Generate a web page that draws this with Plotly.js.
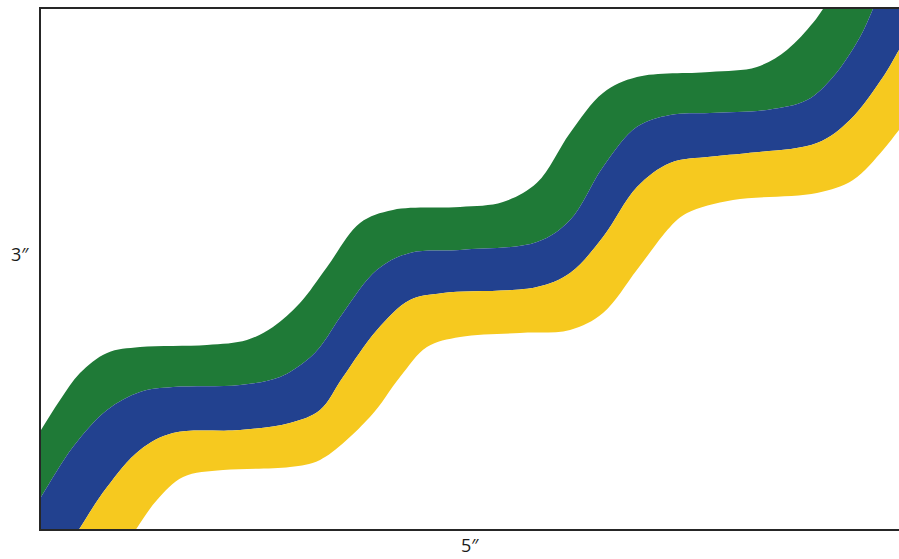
<!DOCTYPE html>
<html>
<head>
<meta charset="utf-8">
<script src="https://cdn.plot.ly/plotly-3.0.1.min.js"></script>
<style>html,body{margin:0;padding:0;background:#fff;}#chart{width:899px;height:559px;}</style>
</head>
<body>
<div id="chart"></div>
<script>
// Boundary curves of the three wavy bands, in inches (frame is 5" x 3")
const topGreenX = [-0.122, 0, 0.111, 0.227, 0.385, 0.577, 0.967, 1.200, 1.352, 1.509, 1.667, 1.859, 2.051, 2.442, 2.692, 2.890, 3.083, 3.275, 3.473, 3.897, 4.172, 4.347, 4.499, 4.557, 4.627];
const topGreenY = [0.381, 0.571, 0.744, 0.900, 1.016, 1.050, 1.062, 1.091, 1.166, 1.304, 1.512, 1.766, 1.841, 1.858, 1.887, 1.997, 2.285, 2.516, 2.608, 2.637, 2.666, 2.764, 2.920, 3.000, 3.110];

const greenBlueX = [-0.152, 0, 0.186, 0.385, 0.577, 0.769, 1.160, 1.393, 1.550, 1.626, 1.760, 1.958, 2.150, 2.442, 2.890, 3.083, 3.275, 3.473, 3.666, 3.899, 4.231, 4.464, 4.615, 4.773, 4.848, 4.918];
const greenBlueY = [-0.052, 0.185, 0.473, 0.687, 0.791, 0.819, 0.831, 0.877, 0.975, 1.050, 1.246, 1.495, 1.593, 1.610, 1.656, 1.783, 2.089, 2.320, 2.389, 2.400, 2.418, 2.475, 2.608, 2.839, 3.000, 3.168];

const blueYellowX = [0.111, 0.227, 0.385, 0.577, 0.769, 1.160, 1.451, 1.626, 1.760, 1.958, 2.150, 2.343, 2.890, 3.083, 3.275, 3.473, 3.666, 3.899, 4.132, 4.522, 4.714, 4.907, 5.000, 5.122];
const blueYellowY = [-0.179, 0.006, 0.242, 0.456, 0.554, 0.571, 0.612, 0.687, 0.877, 1.148, 1.321, 1.362, 1.396, 1.477, 1.685, 1.973, 2.112, 2.147, 2.170, 2.227, 2.360, 2.608, 2.764, 2.966];

const bottomYellowX = [0.460, 0.559, 0.676, 0.828, 1.061, 1.451, 1.626, 1.917, 2.092, 2.249, 2.442, 2.791, 3.083, 3.275, 3.473, 3.666, 3.765, 4.033, 4.522, 4.732, 4.907, 5.000, 5.122];
const bottomYellowY = [-0.150, 0.006, 0.167, 0.300, 0.340, 0.358, 0.398, 0.646, 0.877, 1.050, 1.108, 1.131, 1.148, 1.246, 1.495, 1.743, 1.823, 1.898, 1.939, 2.014, 2.187, 2.302, 2.447];

const bandNames = ['Green', 'Blue', 'Yellow'];
const bandColors = ['#1f7a37', '#22418f', '#f6c91f'];
const widthLabel = '5″';
const heightLabel = '3″';

const boundaries = [
  [topGreenX, topGreenY],
  [greenBlueX, greenBlueY],
  [blueYellowX, blueYellowY],
  [bottomYellowX, bottomYellowY]
];

const traces = boundaries.map((b, i) => ({
  x: b[0], y: b[1],
  type: 'scatter', mode: 'lines',
  name: i === 0 ? 'edge' : bandNames[i - 1],
  line: {shape: 'spline', smoothing: 1, width: 0, color: 'rgba(0,0,0,0)'},
  fill: i === 0 ? 'none' : 'tonexty',
  fillcolor: i === 0 ? undefined : bandColors[i - 1],
  hoverinfo: 'skip',
  showlegend: false
}));

const labelFont = {family: 'Open Sans, Liberation Sans, sans-serif', size: 18, color: '#1a1a1a'};

const layout = {
  width: 899, height: 559,
  margin: {l: 41, r: 0, t: 9, b: 30},
  paper_bgcolor: '#ffffff',
  plot_bgcolor: '#ffffff',
  showlegend: false,
  hovermode: false,
  xaxis: {range: [0, 5], showgrid: false, zeroline: false, showticklabels: false, ticks: '',
          showline: true, mirror: true, linecolor: '#262626', linewidth: 2, fixedrange: true},
  yaxis: {range: [0, 3], showgrid: false, zeroline: false, showticklabels: false, ticks: '',
          showline: true, mirror: false, linecolor: '#262626', linewidth: 2, fixedrange: true},
  annotations: [
    {text: widthLabel, xref: 'paper', yref: 'paper', x: 0.5, y: 0, xanchor: 'center', yanchor: 'middle',
     yshift: -16, showarrow: false, font: labelFont},
    {text: heightLabel, xref: 'paper', yref: 'paper', x: 0, y: 0.5, xanchor: 'center', yanchor: 'middle',
     xshift: -21, yshift: 15, showarrow: false, font: labelFont}
  ]
};

Plotly.newPlot('chart', traces, layout, {displayModeBar: false, staticPlot: true});
</script>
</body>
</html>
